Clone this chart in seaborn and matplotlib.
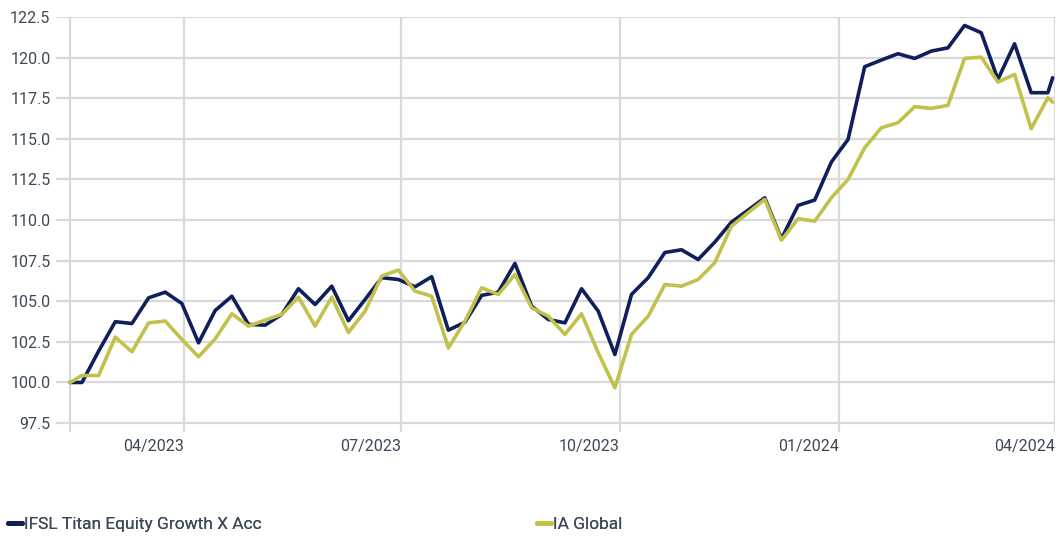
import matplotlib
matplotlib.use("Agg")
import matplotlib.pyplot as plt
import matplotlib.transforms as mtransforms
from matplotlib import font_manager
import pandas as pd
import seaborn as sns

# weekly index values, rebased to 100
dates = ([pd.Timestamp("2023-02-12")]
         + list(pd.date_range("2023-02-17", periods=59, freq="7D"))
         + [pd.Timestamp("2024-03-31")])

fund = [100.0, 100.0, 101.93, 103.74, 103.63, 105.21, 105.56, 104.86, 102.44, 104.43,
        105.31, 103.57, 103.53, 104.19, 105.77, 104.80, 105.93, 103.80, 105.11, 106.45,
        106.34, 105.89, 106.51, 103.22, 103.71, 105.36, 105.56, 107.33, 104.70, 103.88,
        103.67, 105.77, 104.39, 101.72, 105.42, 106.45, 108.00, 108.17, 107.57, 108.64,
        109.87, 110.61, 111.37, 108.84, 110.90, 111.23, 113.57, 114.96, 119.44, 119.85,
        120.24, 119.95, 120.40, 120.60, 121.98, 121.53, 118.66, 120.85, 117.84, 117.84,
        118.76]

sector = [100.0, 100.43, 100.43, 102.79, 101.89, 103.67, 103.78, 102.65, 101.58, 102.69,
          104.23, 103.47, 103.84, 104.19, 105.25, 103.47, 105.25, 103.08, 104.39, 106.55,
          106.92, 105.62, 105.31, 102.13, 103.78, 105.83, 105.42, 106.65, 104.60, 104.08,
          102.96, 104.23, 101.83, 99.67, 102.96, 104.08, 106.03, 105.93, 106.34, 107.37,
          109.62, 110.45, 111.27, 108.76, 110.08, 109.93, 111.37, 112.50, 114.45, 115.68,
          115.99, 116.98, 116.87, 117.06, 119.95, 120.03, 118.49, 118.97, 115.62, 117.53,
          117.26]

series_names = ["IFSL Titan Equity Growth X Acc", "IA Global"]
colors = ["#101f5c", "#c2c14c"]

y_ticks = [97.5, 100.0, 102.5, 105.0, 107.5, 110.0, 112.5, 115.0, 117.5, 120.0, 122.5]
x_ticks = ["2023-04-01", "2023-07-01", "2023-10-01", "2024-01-01", "2024-04-01"]
x_tick_labels = ["04/2023", "07/2023", "10/2023", "01/2024", "04/2024"]

df = pd.DataFrame({
    "date": dates * 2,
    "value": fund + sector,
    "series": [series_names[0]] * len(fund) + [series_names[1]] * len(sector),
})

sns.set_style("white")
installed = {f.name for f in font_manager.fontManager.ttflist}
if "Liberation Sans Narrow" in installed:
    plt.rcParams["font.family"] = ["Liberation Sans Narrow", "DejaVu Sans"]
    fs, fs_leg = 14, 14
else:
    plt.rcParams["font.family"] = ["Roboto", "DejaVu Sans"]
    fs, fs_leg = 11.5, 12.5
text_color = "#3d4858"
grid_color = "#d9d9d9"

fig = plt.figure(figsize=(10.63, 5.38), dpi=100)
ax = fig.add_axes([56 / 1063, 1 - 432 / 538, (1055 - 56) / 1063, (432 - 17) / 538])

sns.lineplot(data=df, x="date", y="value", hue="series", palette=colors,
             linewidth=2.6, ax=ax, zorder=3)

ax.set_xlim(pd.Timestamp("2023-02-06 02:00"), pd.Timestamp("2024-04-01"))
ax.set_ylim(96.95, 122.5)

for y in y_ticks:
    ax.axhline(y, color=grid_color, lw=1.6, zorder=0)
for d in [dates[0]] + [pd.Timestamp(t) for t in x_ticks]:
    ax.axvline(d, color=grid_color, lw=1.6, zorder=0)

for s in ax.spines.values():
    s.set_visible(False)

ax.set_yticks(y_ticks)
ax.set_yticklabels([f"{v:.1f}" for v in y_ticks])
ax.set_xticks([pd.Timestamp(t) for t in x_ticks])
ax.set_xticklabels(x_tick_labels, ha="right")
offset = mtransforms.ScaledTranslation(-4 / 100, 0, fig.dpi_scale_trans)
for lab in ax.get_xticklabels():
    lab.set_transform(lab.get_transform() + offset)
ax.tick_params(axis="both", length=0, labelsize=fs, colors=text_color)
ax.tick_params(axis="y", pad=4)
ax.tick_params(axis="x", pad=5)
ax.set_xlabel("")
ax.set_ylabel("")

# legend: one entry at the left, the other starting near the middle
handles, labels = ax.get_legend_handles_labels()
ax.get_legend().remove()
for h, lab, x0 in zip(handles, labels, [8 / 1063, 537 / 1063]):
    leg = fig.legend([h], [lab], loc="center left", bbox_to_anchor=(x0, 1 - 524 / 538),
                     frameon=False, fontsize=fs_leg, handlelength=0.8, handletextpad=0.15,
                     borderpad=0, borderaxespad=0)
    for line in leg.get_lines():
        line.set_linewidth(3.5)
    for t in leg.get_texts():
        t.set_color(text_color)
    fig.add_artist(leg)

fig.savefig("out.png", dpi=100)
